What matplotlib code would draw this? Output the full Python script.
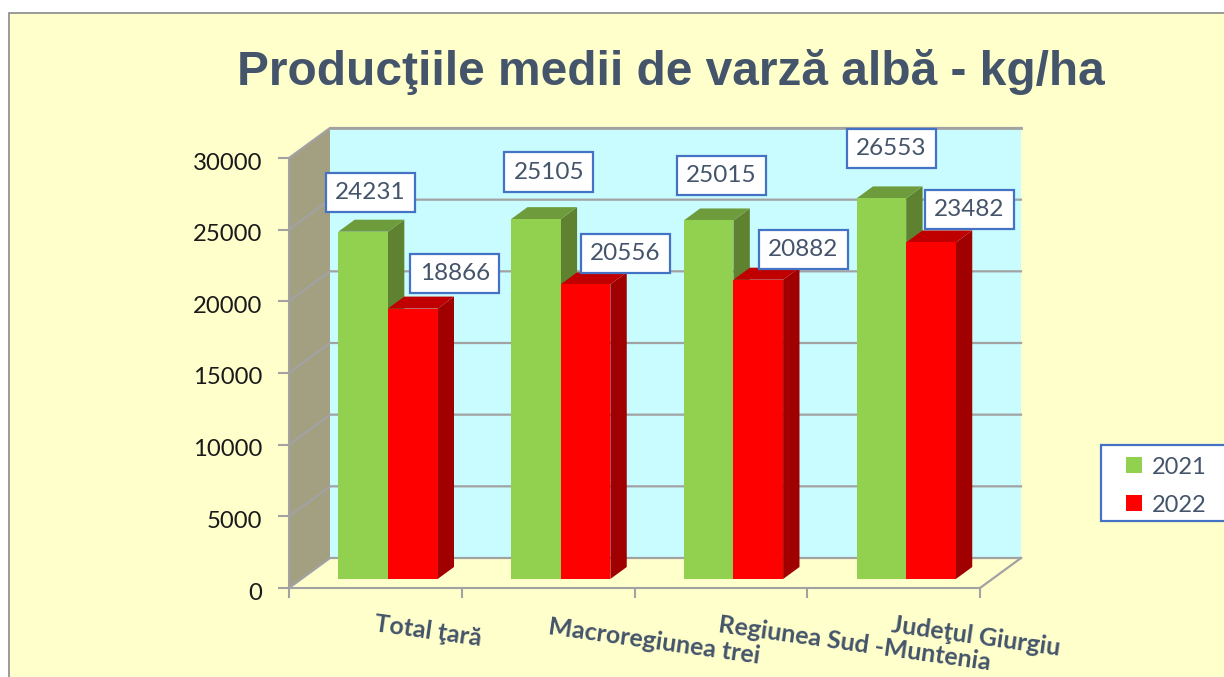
import matplotlib
matplotlib.use('Agg')
import matplotlib.pyplot as plt
from matplotlib.patches import Patch, Polygon, Rectangle
from matplotlib.transforms import ScaledTranslation

W, H = 1224, 677

categories = ['Total ţară', 'Macroregiunea trei', 'Regiunea Sud -Muntenia', 'Judeţul Giurgiu']
series_names = ['2021', '2022']
values_2021 = [24231, 25105, 25015, 26553]
values_2022 = [18866, 20556, 20882, 23482]
y_ticks = [0, 5000, 10000, 15000, 20000, 25000, 30000]
title = 'Producţiile medii de varză albă - kg/ha'

# colours
BG = '#FFFFCC'
WALL = '#C9FCFF'
SIDE_WALL = '#A3A082'
GRID = '#A2A2A2'
TEXT = '#44546A'
BLUE = '#4472C4'
GREEN = ('#92D050', '#6E9C3C', '#5F8230')
RED = ('#FF0000', '#C00000', '#A00000')

# depth of the 3d box, in data units
DX = 41 / 172.75
DY = 30 / 430 * 30000
BAR_W = 0.2875
BAR_START = 0.214
BAR_D0 = 0.3
BAR_D1 = 0.7

# label offsets from the bar top centre, in px
label_off = [[(7, 39), (42, 35)], [(13, 47), (40, 31)], [(13, 45), (45, 30)], [(10, 50), (38, 33)]]
cat_off = [(53, -43), (106, -53), (134, -56), (82, -48)]


def px(x, y):
    return x / W, 1 - y / H


def p(x, y, d=1.0):
    # project a point at depth d (0 front, 1 back) to data coords
    return (x + d * DX, y + d * DY)


fig = plt.figure(figsize=(W / 100, H / 100), dpi=100, facecolor='white')
fig.add_artist(Rectangle(px(9, H + 5), (W + 5) / W, (H + 5 - 13) / H, transform=fig.transFigure,
                         fc=BG, ec='#8A8A8A', lw=1.2, zorder=-5))

x0, y0 = px(289, 588)
x1, y1 = px(980, 158)
ax = fig.add_axes([x0, y0, x1 - x0, y1 - y0])
ax.patch.set_visible(False)
ax.set_xlim(0, len(categories))
ax.set_ylim(0, 30000)
for s in ['top', 'right']:
    ax.spines[s].set_visible(False)
ax.spines['left'].set_color(GRID)
ax.spines['bottom'].set_color(GRID)
ax.spines['left'].set_linewidth(1.5)
ax.spines['bottom'].set_linewidth(1.5)

n = len(categories)
top = y_ticks[-1]
ax.add_patch(Polygon([p(0, 0), p(n, 0), p(n, top), p(0, top)], fc=WALL, ec='none', zorder=1, clip_on=False))
ax.add_patch(Polygon([p(0, 0, 0), p(0, 0), p(0, top), p(0, top, 0)], fc=SIDE_WALL, ec='none', zorder=1, clip_on=False))

# grid on both walls
for t in y_ticks:
    xs, ys = zip(p(0, t, 0), p(0, t), p(n, t))
    ax.plot(xs, ys, color=GRID, lw=1.6, zorder=2, clip_on=False, solid_joinstyle='miter')
xs, ys = zip(p(n, 0, 0), p(n, 0))
ax.plot(xs, ys, color=GRID, lw=1.6, zorder=2, clip_on=False)
xs, ys = zip(p(0, top), p(n, top))
ax.plot(xs, ys, color=GRID, lw=2, zorder=2, clip_on=False)


def bar3d(x, h, cols):
    x2 = x + BAR_W
    ax.add_patch(Polygon([p(x2, 0, BAR_D0), p(x2, 0, BAR_D1), p(x2, h, BAR_D1), p(x2, h, BAR_D0)],
                         fc=cols[2], ec='none', zorder=3, clip_on=False))
    ax.add_patch(Polygon([p(x, h, BAR_D0), p(x2, h, BAR_D0), p(x2, h, BAR_D1), p(x, h, BAR_D1)],
                         fc=cols[1], ec='none', zorder=3, clip_on=False))
    ax.add_patch(Polygon([p(x, 0, BAR_D0), p(x2, 0, BAR_D0), p(x2, h, BAR_D0), p(x, h, BAR_D0)],
                         fc=cols[0], ec='none', zorder=3, clip_on=False))


for i in range(n):
    for j, vals in enumerate([values_2021, values_2022]):
        x = i + BAR_START + j * BAR_W
        bar3d(x, vals[i], (GREEN, RED)[j])
        cx, cy = p(x + BAR_W / 2, vals[i], BAR_D0)
        off = label_off[i][j]
        ax.annotate(str(vals[i]), (cx, cy), xytext=(off[0] * 0.72, off[1] * 0.72), textcoords='offset points',
                    ha='center', va='center', fontsize=17.5, family='Lato', color=TEXT, zorder=6,
                    bbox=dict(boxstyle='square,pad=0.38', fc='white', ec=BLUE, lw=1.6))
    off = cat_off[i]
    ax.annotate(categories[i], (i + 0.5, 0), xytext=(off[0] * 0.72, off[1] * 0.72), textcoords='offset points',
                ha='center', va='center', rotation=-8, rotation_mode='anchor', fontsize=18, family='Lato',
                fontweight='bold', color=TEXT, annotation_clip=False)

ax.set_yticks(y_ticks)
ax.set_xticks(range(n + 1))
ax.set_xticklabels([])
ax.tick_params(axis='y', length=8, width=1.5, color=GRID, labelsize=17.2, labelcolor='#1A1A1A', pad=11)
ax.tick_params(axis='x', length=7, width=1.5, color=GRID)
shift = ScaledTranslation(0, -3 / 100, fig.dpi_scale_trans)
for lab in ax.get_yticklabels():
    lab.set_family('Lato')
    lab.set_transform(lab.get_transform() + shift)

fig.text(671 / W, 1 - 72 / H, title, ha='center', va='center', fontsize=34.5, fontweight='bold',
         family='Liberation Sans', color=TEXT)

# legend frame runs off the right edge, so it is drawn apart from the entries
fig.add_artist(Rectangle(px(1101, 521), 135 / W, 76 / H, transform=fig.transFigure,
                         fc='white', ec=BLUE, lw=1.6, zorder=4))
handles = [Patch(fc=GREEN[0], label=series_names[0]), Patch(fc=RED[0], label=series_names[1])]
leg = fig.legend(handles=handles, loc='center left', bbox_to_anchor=px(1126, 486), bbox_transform=fig.transFigure,
                 prop={'family': 'Lato', 'size': 17}, frameon=False,
                 handlelength=0.68, handleheight=0.68, handletextpad=0.4, labelspacing=0.72, borderpad=0,
                 borderaxespad=0, labelcolor=TEXT)
leg.set_zorder(5)

fig.savefig('out.png', dpi=100)
